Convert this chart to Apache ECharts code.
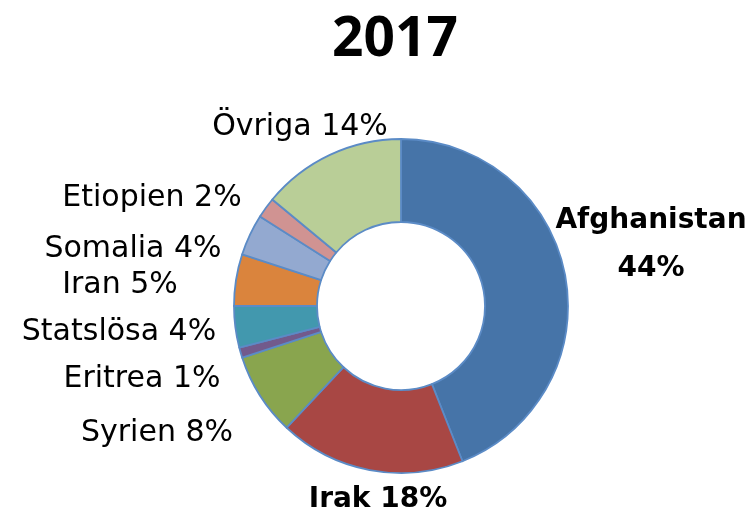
<!DOCTYPE html>
<html><head><meta charset="utf-8">
<script src="https://cdn.jsdelivr.net/npm/echarts@6/dist/echarts.min.js"></script>
<style>html,body{margin:0;padding:0;background:#fff}#c{width:755px;height:518px}</style>
</head><body><div id="c"></div>
<script>
const categories = ['Afghanistan','Irak','Syrien','Eritrea','Statslösa','Iran','Somalia','Etiopien','Övriga'];
const values = [44, 18, 8, 1, 4, 5, 4, 2, 14];
const colors = ['#4674A8','#A84744','#89A54E','#725A8C','#4298AE','#DA843D','#93A9D0','#D09392','#B9CE97'];
const boldIdx = [0, 1];
// label centres (layout only)
const labelPos = [[651,245],[378,500],[157,433],[142,379],[119,332],[120,285],[133,249],[152,198],[300,127]];

const chart = echarts.init(document.getElementById('c'), null, {renderer:'canvas'});
chart.setOption({
  animation:false,
  title:{text:'2017', left:390, top:8, textAlign:'center', textStyle:{fontFamily:'Open Sans', fontWeight:'bold', fontSize:55, color:'#000'}},
  series:[{
    type:'pie',
    center:[401,306],
    radius:[84,167],
    startAngle:90,
    clockwise:true,
    itemStyle:{borderColor:'#5B8BC6', borderWidth:1.8},
    labelLine:{show:false},
    label:{
      show:true,
      position:'outside',
      overflow:'none',
      width:400,
      formatter:function(p){
        if(p.dataIndex===0) return '{b|'+p.name+'}\n{b|'+p.value+'%}';
        if(boldIdx.indexOf(p.dataIndex)>=0) return '{b|'+p.name+' '+p.value+'%}';
        return '{n|'+p.name+' '+p.value+'%}';
      },
      rich:{
        b:{fontFamily:'DejaVu Sans', fontWeight:'bold', fontSize:28, color:'#000', lineHeight:48, align:'center'},
        n:{fontFamily:'DejaVu Sans', fontSize:30, color:'#000', align:'center'}
      }
    },
    labelLayout:function(params){
      const p = labelPos[params.dataIndex];
      return {x:p[0], y:p[1], align:'center', verticalAlign:'middle'};
    },
    data: categories.map((c,i)=>({name:c, value:values[i], itemStyle:{color:colors[i]}}))
  }]
});
</script></body></html>
